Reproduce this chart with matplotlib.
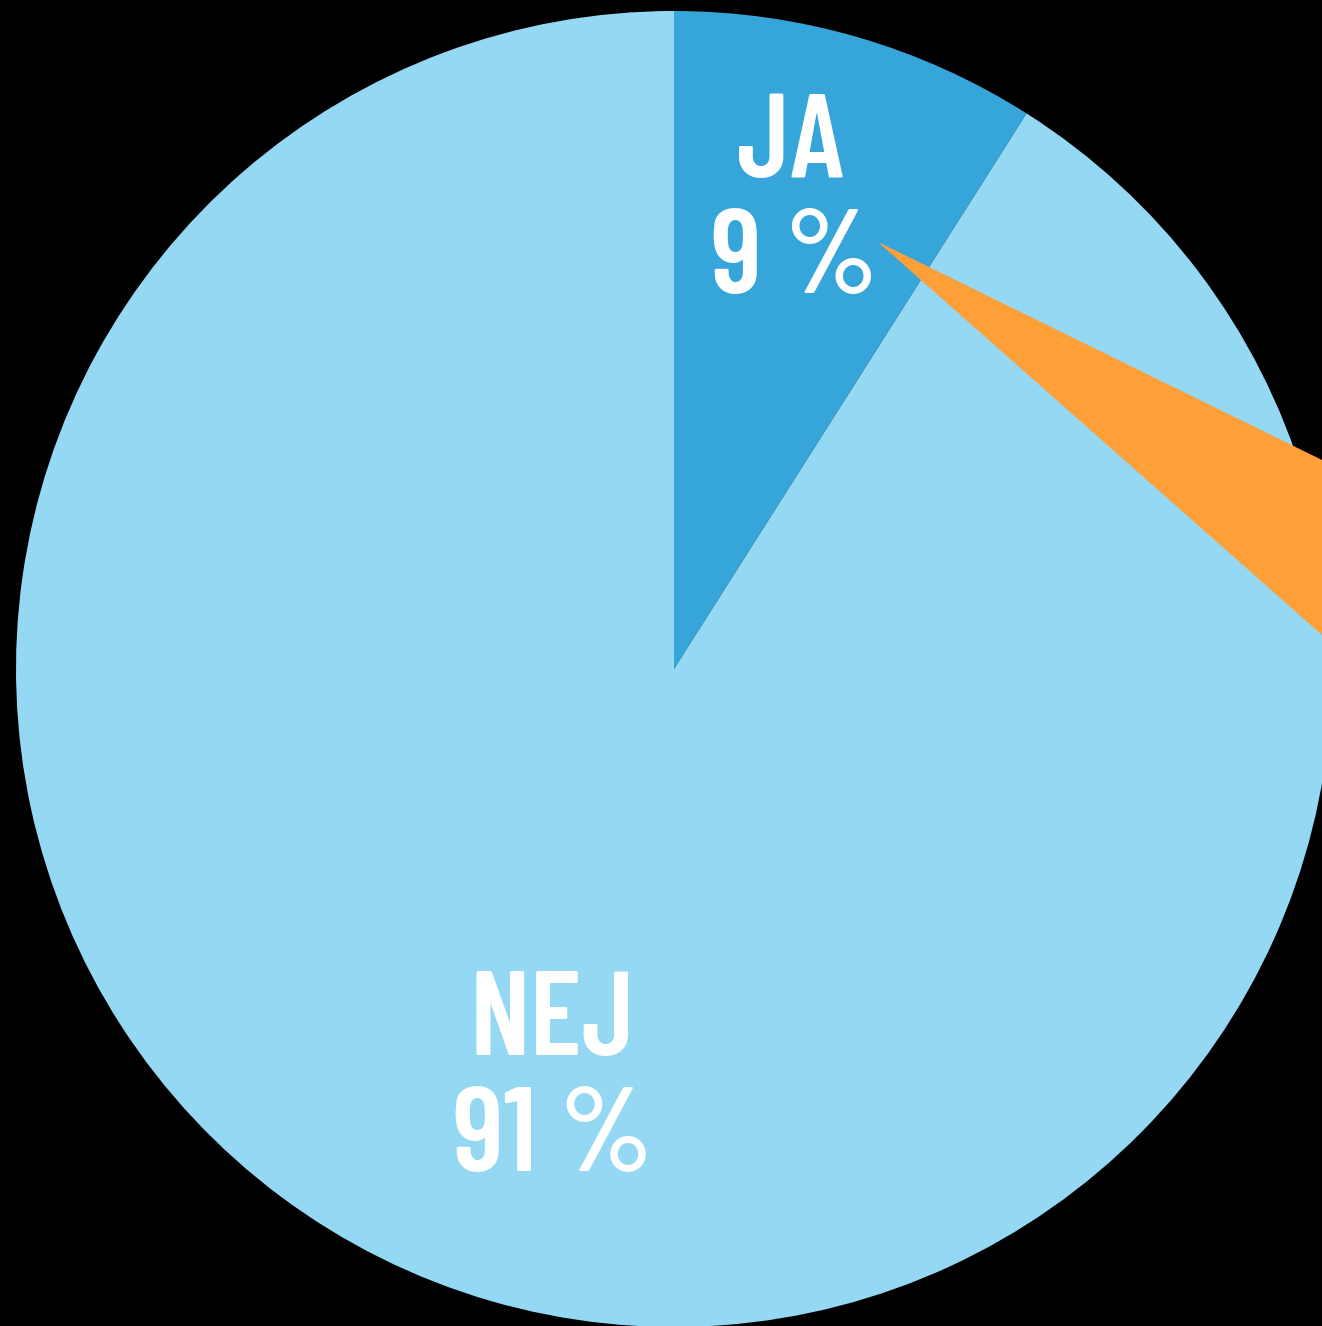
import matplotlib
matplotlib.use("Agg")
import matplotlib.pyplot as plt
from matplotlib.patches import Polygon

# donnees
labels = ["JA", "NEJ"]
values = [9, 91]
colors = ["#35A5DA", "#94D8F4"]
pointer_color = "#FE9F37"

W, H = 1322, 1326
fig = plt.figure(figsize=(W / 100, H / 100), dpi=100, facecolor="black")
ax = fig.add_axes([0, 0, 1, 1])
ax.set_facecolor("black")

cx, cy, r = 674, H - 669, 658
ax.pie(values, colors=colors, startangle=90, counterclock=False,
       center=(cx, cy), radius=r, frame=True,
       wedgeprops=dict(linewidth=0))
ax.set_xlim(0, W)
ax.set_ylim(0, H)
ax.axis("off")

# fleche orange (decor)
tip = (878, H - 242)
ax.add_patch(Polygon([tip, (W, H - 460), (W, H - 635)], closed=True,
                     facecolor=pointer_color, edgecolor="none", zorder=3))

font = dict(family=["Barlow Condensed", "DejaVu Sans"], weight=600,
            color="white", ha="center", va="center", fontsize=86, zorder=4)
# texte des parts
ax.text(791, H - 146, labels[0], **font)
ax.text(794, H - 263, f"{values[0]} %", **font)
ax.text(552, H - 1024, labels[1], **font)
ax.text(553, H - 1141, f"{values[1]} %", **font)

fig.savefig("out.png", dpi=100, facecolor="black")
